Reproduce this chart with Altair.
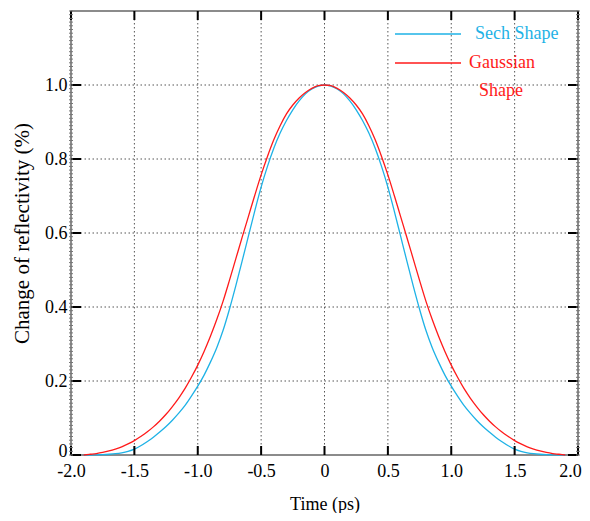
import altair as alt
import pandas as pd

# ---- data (half profile, mirrored) ----
t_half = [0.00, 0.05, 0.10, 0.15, 0.20, 0.25, 0.30, 0.35, 0.40, 0.45,
          0.50, 0.55, 0.60, 0.65, 0.70, 0.75, 0.80, 0.85, 0.90, 0.95,
          1.00, 1.05, 1.10, 1.15, 1.20, 1.25, 1.30, 1.35, 1.40, 1.45,
          1.50, 1.55, 1.60, 1.65, 1.70, 1.75, 1.80, 1.85, 1.90]
sech_half = [1.000, 0.997, 0.989, 0.976, 0.957, 0.933, 0.904, 0.870, 0.829, 0.780,
             0.724, 0.660, 0.592, 0.524, 0.457, 0.394, 0.337, 0.290, 0.251, 0.216,
             0.186, 0.159, 0.134, 0.113, 0.094, 0.077, 0.062, 0.048, 0.036, 0.025,
             0.016, 0.010, 0.006, 0.0035, 0.002, 0.001, 0.0005, 0.0, 0.0]
gauss_half = [1.000, 0.998, 0.991, 0.980, 0.965, 0.946, 0.922, 0.890, 0.852, 0.807,
              0.757, 0.702, 0.645, 0.588, 0.530, 0.472, 0.416, 0.366, 0.321, 0.280,
              0.243, 0.210, 0.180, 0.154, 0.131, 0.110, 0.092, 0.076, 0.062, 0.050,
              0.039, 0.030, 0.022, 0.016, 0.011, 0.007, 0.004, 0.002, 0.0]
series_names = ["Sech Shape", "Gaussian Shape"]
series_colors = ["#1EB2E6", "#FF1A1A"]

x_ticks = [-2.0, -1.5, -1.0, -0.5, 0.0, 0.5, 1.0, 1.5, 2.0]
x_grid = [-1.5, -1.0, -0.5, 0.0, 0.5, 1.0, 1.5]
y_ticks = [0.0, 0.2, 0.4, 0.6, 0.8, 1.0]
y_grid = [0.2, 0.4, 0.6, 0.8, 1.0]
y_minor = [round(i * 0.01, 2) for i in range(0, 121)]

# ---- build table ----
rows = []
for name, half in zip(series_names, [sech_half, gauss_half]):
    for t, v in zip(t_half[::-1], half[::-1]):
        if t > 0:
            rows.append({"t": -t, "value": v, "series": name})
    for t, v in zip(t_half, half):
        rows.append({"t": t, "value": v, "series": name})
df = pd.DataFrame(rows)

FONT = "Liberation Serif"
W, H = 507, 444
xs = alt.Scale(domain=[-2, 2], nice=False, zero=False)
ys = alt.Scale(domain=[0, 1.2], nice=False)
lab = "datum.value == 0 ? '0' : (datum.value < 0 ? '-' : '') + format(abs(datum.value), '.1f')"

x_axis = alt.Axis(values=x_ticks, labelExpr=lab, grid=False, ticks=False, domain=False,
                  labelFont=FONT, labelFontSize=18, labelColor="#000", labelPadding=7,
                  labelOffset={"condition": {"test": "datum.value == 2", "value": -8}, "value": 0},
                  title="Time (ps)", titleFont=FONT, titleFontSize=18, titleFontWeight="normal",
                  titleColor="#000", titlePadding=15, labelFlush=False)
y_axis = alt.Axis(values=y_ticks, labelExpr=lab, grid=False, ticks=False, domain=False,
                  labelFont=FONT, labelFontSize=18, labelColor="#000", labelPadding=4,
                  labelOffset={"condition": {"test": "datum.value == 0", "value": -4}, "value": 0},
                  title="Change of reflectivity (%)", titleFont=FONT, titleFontSize=21,
                  titleFontWeight="normal", titleColor="#000", titlePadding=12)

grid_style = dict(strokeDash=[1.5, 2.5], color="#555", strokeWidth=1)

gx = alt.Chart(pd.DataFrame({"t": x_grid})).mark_rule(**grid_style).encode(
    x=alt.X("t:Q", scale=xs, axis=x_axis))
gy = alt.Chart(pd.DataFrame({"value": y_grid})).mark_rule(**grid_style).encode(
    y=alt.Y("value:Q", scale=ys, axis=y_axis))

tick_style = dict(color="#000", strokeWidth=2)
xt = pd.DataFrame({"t": x_ticks})
yt = pd.DataFrame({"value": y_ticks})
tb = alt.Chart(xt).mark_rule(**tick_style).encode(
    x=alt.X("t:Q", scale=xs, axis=x_axis), y=alt.value(H), y2=alt.value(H - 9))
tt = alt.Chart(xt).mark_rule(**tick_style).encode(
    x=alt.X("t:Q", scale=xs, axis=x_axis), y=alt.value(0), y2=alt.value(9))
tl = alt.Chart(yt).mark_rule(**tick_style).encode(
    y=alt.Y("value:Q", scale=ys, axis=y_axis), x=alt.value(0), x2=alt.value(10))
tr = alt.Chart(yt).mark_rule(**tick_style).encode(
    y=alt.Y("value:Q", scale=ys, axis=y_axis), x=alt.value(W), x2=alt.value(W - 10))

ym = pd.DataFrame({"value": y_minor})
minor_style = dict(color="#777", strokeWidth=1)
ml = alt.Chart(ym).mark_rule(**minor_style).encode(
    y=alt.Y("value:Q", scale=ys, axis=y_axis), x=alt.value(-2), x2=alt.value(2))
mr = alt.Chart(ym).mark_rule(**minor_style).encode(
    y=alt.Y("value:Q", scale=ys, axis=y_axis), x=alt.value(W - 2), x2=alt.value(W + 2))

lines = alt.Chart(df).mark_line(strokeWidth=1.3, interpolate="monotone").encode(
    x=alt.X("t:Q", scale=xs, axis=x_axis),
    y=alt.Y("value:Q", scale=ys, axis=y_axis),
    color=alt.Color("series:N", scale=alt.Scale(domain=series_names, range=series_colors),
                    legend=None),
    order=alt.Order("t:Q"),
)

# ---- manual legend ----
one = pd.DataFrame({"a": [0]})
leg_sech_line = alt.Chart(one).mark_rule(color=series_colors[0], strokeWidth=1.3).encode(
    x=alt.value(324), x2=alt.value(390), y=alt.value(23))
leg_gauss_line = alt.Chart(one).mark_rule(color=series_colors[1], strokeWidth=1.3).encode(
    x=alt.value(324), x2=alt.value(390), y=alt.value(52))
text_style = dict(font=FONT, fontSize=18, baseline="middle")
leg_sech_text = alt.Chart(one).mark_text(align="left", color=series_colors[0], **text_style).encode(
    x=alt.value(404), y=alt.value(23), text=alt.value("Sech Shape"))
leg_gauss_text1 = alt.Chart(one).mark_text(align="center", color=series_colors[1], **text_style).encode(
    x=alt.value(431), y=alt.value(52), text=alt.value("Gaussian"))
leg_gauss_text2 = alt.Chart(one).mark_text(align="center", color=series_colors[1], **text_style).encode(
    x=alt.value(430), y=alt.value(80), text=alt.value("Shape"))

chart = alt.layer(
    gx, gy, lines, tb, tt, tl, tr, ml, mr,
    leg_sech_line, leg_gauss_line, leg_sech_text, leg_gauss_text1, leg_gauss_text2,
).properties(
    width=W, height=H,
    autosize=alt.AutoSizeParams(type="none"),
    padding={"left": 63, "top": 3, "right": 4, "bottom": 58},
    background="white",
).configure_view(stroke="#666", strokeWidth=1.5)

chart.save("out.html", embed_options={"renderer": "svg", "actions": False})
